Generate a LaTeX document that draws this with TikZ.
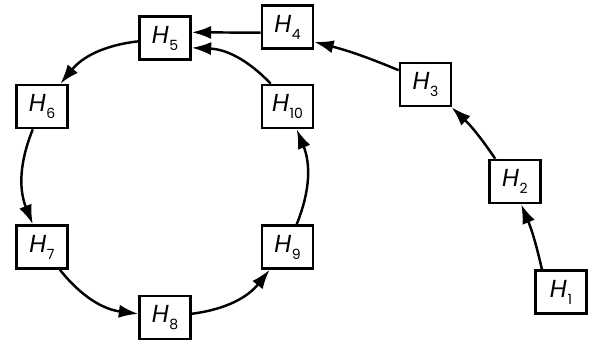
\documentclass[tikz,border=0pt]{standalone}
\usepackage{fontspec}
\setmainfont{Poppins}
\usetikzlibrary{arrows.meta}
\newcommand{\hname}[1]{\textit{H}\kern0.3pt\raisebox{-4pt}{\fontsize{8}{9}\selectfont #1}}
\begin{document}
\begin{tikzpicture}[
    hbox/.style={draw, line width=1.5pt, minimum width=1.02cm, minimum height=0.86cm,
      inner sep=0pt, font=\fontsize{14}{16}\selectfont},
    link/.style={line width=1.4pt, -{Latex[length=11pt,width=7.5pt]}}]
  \useasboundingbox (0,0) rectangle (12.06,6.92);

  % the cycle
  \node[hbox] (h5) at (3.30,6.16) {\hname{5}};
  \node[hbox] (h6) at (0.84,4.79) {\hname{6}};
  \node[hbox] (h7) at (0.84,1.98) {\hname{7}};
  \node[hbox] (h8) at (3.30,0.57) {\hname{8}};
  \node[hbox] (h9) at (5.75,1.98) {\hname{9}};
  \node[hbox] (h10) at (5.75,4.79) {\hname{10}};

  % the tail
  \node[hbox] (h1) at (11.22,1.08) {\hname{1}};
  \node[hbox] (h2) at (10.30,3.29) {\hname{2}};
  \node[hbox] (h3) at (8.51,5.23) {\hname{3}};
  \node[hbox] (h4) at (5.75,6.38) {\hname{4}};

  \draw[link] (h1.130) to[bend right=5] (h2.-75);
  \draw[link] (h2.131) to[bend right=6] (h3.-41);
  \draw[link] (h3.152) to[bend right=4] (h4.-29);
  \draw[link] (h4.192) -- (h5.12);

  \draw[link] (h5) to[bend right=22] (h6);
  \draw[link] (h6) to[bend right=22] (h7);
  \draw[link] (h7) to[bend right=22] (h8);
  \draw[link] (h8) to[bend right=22] (h9);
  \draw[link] (h9) to[bend right=22] (h10);
  \draw[link] (h10) to[bend right=22] (h5.-20);
\end{tikzpicture}
\end{document}
